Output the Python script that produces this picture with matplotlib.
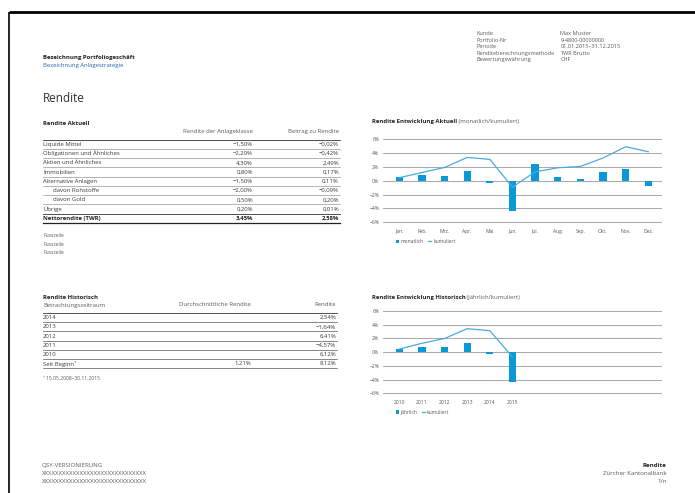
import matplotlib
matplotlib.use("Agg")
import matplotlib.pyplot as plt

plt.rcParams['font.family'] = ['Open Sans', 'DejaVu Sans']

# ---------------- data ----------------
months = ["Jan.", "Feb.", "Mrz.", "Apr.", "Mai", "Jun.", "Jul.", "Aug.", "Sep.", "Okt.", "Nov.", "Dez."]
monthly = [0.5, 0.8, 0.7, 1.4, -0.3, -4.4, 2.5, 0.6, 0.25, 1.2, 1.7, -0.7]
monthly_cum = [0.45, 1.2, 1.93, 3.38, 3.1, -0.92, 1.3, 1.88, 2.08, 3.29, 4.93, 4.2]

years = ["2010", "2011", "2012", "2013", "2014", "2015"]
yearly = [0.5, 0.8, 0.7, 1.4, -0.3, -4.4]
yearly_cum = [0.45, 1.3, 2.0, 3.43, 3.14, -0.7]

yticks = [-6, -4, -2, 0, 2, 4, 6]

asset_classes = ["Liquide Mittel", "Obligationen und Ähnliches", "Aktien und Ähnliches",
                 "Immobilien", "Alternative Anlagen", "davon Rohstoffe", "davon Gold", "Übrige"]
asset_indent = [False, False, False, False, False, True, True, False]
asset_return = [-1.50, -2.20, 4.30, 0.80, -1.50, -2.00, 0.50, 0.20]
asset_contrib = [-0.02, -0.42, 2.49, 0.17, 0.11, -0.09, 0.20, 0.01]
total_label = "Nettorendite (TWR)"
total_return = 3.45
total_contrib = 2.58

hist_periods = ["2014", "2013", "2012", "2011", "2010", "Seit Beginn¹"]
hist_avg = [None, None, None, None, None, 1.21]
hist_return = [2.54, -1.64, 6.41, -4.57, 6.12, 8.12]

info_labels = ["Kunde", "Portfolio-Nr", "Periode", "Renditeberechnungsmethode", "Bewertungswährung"]
info_values = ["Max Muster", "9-4800-00000000", "01.01.2015–31.12.2015", "TWR Brutto", "CHF"]


def pct(v):
    s = f"{abs(v):.2f}".replace(".", ",") + "%"
    return ("−" + s) if v < 0 else s


# ---------------- figure ----------------
W, H = 695, 493
fig = plt.figure(figsize=(W / 100, H / 100), dpi=100)
fig.patch.set_facecolor("white")

page = fig.add_axes([0, 0, 1, 1])
page.set_xlim(0, W)
page.set_ylim(H, 0)
page.axis("off")

TXT = "#3a3a3a"
GRAY = "#5a5a5a"
BLUE_BAR = "#0b98d8"
BLUE_LINE = "#4aaade"
FS = 4.3

# page frame
page.plot([9, W], [12, 12], color="black", lw=2.0, solid_capstyle="butt")
page.plot([9, 9], [12, H], color="black", lw=1.2, solid_capstyle="butt")

# header
page.text(43, 58.0, "Bezeichnung Portfoliogeschäft", fontsize=4.3, fontweight="bold", color="#222", va="center")
page.text(43, 66.0, "Bezeichnung Anlagestrategie", fontsize=4.3, color="#2a62b0", va="center")
page.text(43, 98.5, "Rendite", fontsize=8.5, color="#333", va="center")

for i, (lab, val) in enumerate(zip(info_labels, info_values)):
    y = 33.5 + i * 6.6
    page.text(476.5, y, lab, fontsize=4.1, color=GRAY, va="center")
    page.text(560.5, y, val, fontsize=4.1, color=GRAY, va="center")

# ---------------- table Rendite Aktuell ----------------
L, R = 43, 340
C1 = 253
page.text(L, 123.3, "Rendite Aktuell", fontsize=FS, fontweight="bold", color="#222", va="center")
page.text(C1, 132, "Rendite der Anlageklasse", fontsize=FS, color=GRAY, va="center", ha="right")
page.text(R - 1, 132, "Beitrag zu Rendite", fontsize=FS, color=GRAY, va="center", ha="right")
page.plot([L, R], [139.8, 139.8], color="#333", lw=0.6)
y0, dy = 144.3, 9.25
for i, name in enumerate(asset_classes):
    y = y0 + i * dy
    page.text(L + (10 if asset_indent[i] else 0), y, name, fontsize=FS, color=TXT, va="center")
    page.text(C1, y, pct(asset_return[i]), fontsize=FS, color=TXT, va="center", ha="right")
    page.text(R - 1, y, pct(asset_contrib[i]), fontsize=FS, color=TXT, va="center", ha="right")
    last = i == len(asset_classes) - 1
    page.plot([L, R], [y + 4.6, y + 4.6], color="#333" if last else "#8a8a8a", lw=0.6 if last else 0.45)
yt = y0 + len(asset_classes) * dy
page.text(L, yt, total_label, fontsize=FS, fontweight="bold", color="#222", va="center")
page.text(C1, yt, pct(total_return), fontsize=FS, fontweight="bold", color="#222", va="center", ha="right")
page.text(R - 1, yt, pct(total_contrib), fontsize=FS, fontweight="bold", color="#222", va="center", ha="right")
page.plot([L, R], [yt + 4.6, yt + 4.6], color="#222", lw=0.9)

for i in range(3):
    page.text(L, 235.5 + i * 8.6, "Fusszeile", fontsize=3.6, color=GRAY, va="center")

# ---------------- table Rendite Historisch ----------------
R2 = 337
page.text(L, 297.5, "Rendite Historisch", fontsize=FS, fontweight="bold", color="#222", va="center")
page.text(L, 305, "Betrachtungszeitraum", fontsize=FS, color=GRAY, va="center")
page.text(251, 305, "Durchschnittliche Rendite", fontsize=FS, color=GRAY, va="center", ha="right")
page.text(R2 - 1, 305, "Rendite", fontsize=FS, color=GRAY, va="center", ha="right")
page.plot([L, R2], [312.8, 312.8], color="#333", lw=0.6)
h0, hdy = 317.7, 9.2
for i, per in enumerate(hist_periods):
    y = h0 + i * hdy
    page.text(L, y, per, fontsize=FS, color=TXT, va="center")
    if hist_avg[i] is not None:
        page.text(251, y, pct(hist_avg[i]), fontsize=FS, color=TXT, va="center", ha="right")
    page.text(R2 - 1, y, pct(hist_return[i]), fontsize=FS, color=TXT, va="center", ha="right")
    page.plot([L, R2], [y + 4.5, y + 4.5], color="#555", lw=0.5)
page.text(L, 379, "¹ 15.05.2008–30.11.2015", fontsize=3.6, color=GRAY, va="center")

# ---------------- footer ----------------
page.text(42, 465.5, "QSY-VERSIONIERUNG", fontsize=4.4, color=GRAY, va="center")
page.text(42, 473.5, "X" * 30, fontsize=4.4, color=GRAY, va="center")
page.text(42, 481.5, "X" * 30, fontsize=4.4, color=GRAY, va="center")
page.text(666.7, 465.5, "Rendite", fontsize=4.4, fontweight="bold", color="#222", va="center", ha="right")
page.text(666.7, 473.5, "Zürcher Kantonalbank", fontsize=4.4, color=GRAY, va="center", ha="right")
page.text(666.7, 481.5, "1/n", fontsize=4.4, color=GRAY, va="center", ha="right")


# ---------------- charts ----------------
def make_chart(top_px, bottom_px, title_y, bold_title, normal_title, cats, bars, cum, bar_label, legend_y):
    AX_L, AX_R = 382.7, 661.7
    ax = fig.add_axes([AX_L / W, 1 - bottom_px / H, (AX_R - AX_L) / W, (bottom_px - top_px) / H])
    x = list(range(len(cats)))
    b = ax.bar(x, bars, width=0.32, color=BLUE_BAR, zorder=3, label=bar_label)
    ln, = ax.plot(x, cum, color=BLUE_LINE, lw=0.9, zorder=4, label="kumuliert")
    ax.set_xlim(-0.733, 11.592)
    ax.set_ylim(-6.1, 6.1)
    ax.set_yticks(yticks)
    ax.set_yticklabels([f"{t}%".replace("-", "−") for t in yticks])
    ax.set_xticks(x)
    ax.set_xticklabels(cats)
    ax.grid(axis="y", color="#8f8f8f", lw=0.55, zorder=0)
    for s in ax.spines.values():
        s.set_visible(False)
    ax.tick_params(axis="both", length=0, labelsize=3.6, colors=GRAY)
    ax.tick_params(axis="y", pad=2.5)
    ax.tick_params(axis="x", pad=4.0)
    ax.set_facecolor("none")
    t1 = page.text(371.7, title_y, bold_title, fontsize=FS, fontweight="bold", color="#222", va="baseline")
    page.annotate(normal_title, xy=(1, 0), xycoords=t1, va="bottom", ha="left",
                  fontsize=FS, color=GRAY)
    ax.legend(handles=[b, ln], loc="center left",
              bbox_to_anchor=(395.5 / W, 1 - legend_y / H), bbox_transform=fig.transFigure,
              ncol=2, frameon=False, fontsize=3.6, labelcolor=GRAY,
              handlelength=0.7, handleheight=0.7, handletextpad=0.35, columnspacing=0.8,
              borderpad=0, borderaxespad=0)
    return ax


make_chart(138.6, 223.0, 123.5, "Rendite Entwicklung Aktuell", " (monatlich/kumuliert)",
           months, monthly, monthly_cum, "monatlich", 241.7)
make_chart(310.4, 394.0, 298.5, "Rendite Entwicklung Historisch", " (jährlich/kumuliert)",
           years, yearly, yearly_cum, "jährlich", 412.3)

fig.savefig("out.png", dpi=100, facecolor="white")
